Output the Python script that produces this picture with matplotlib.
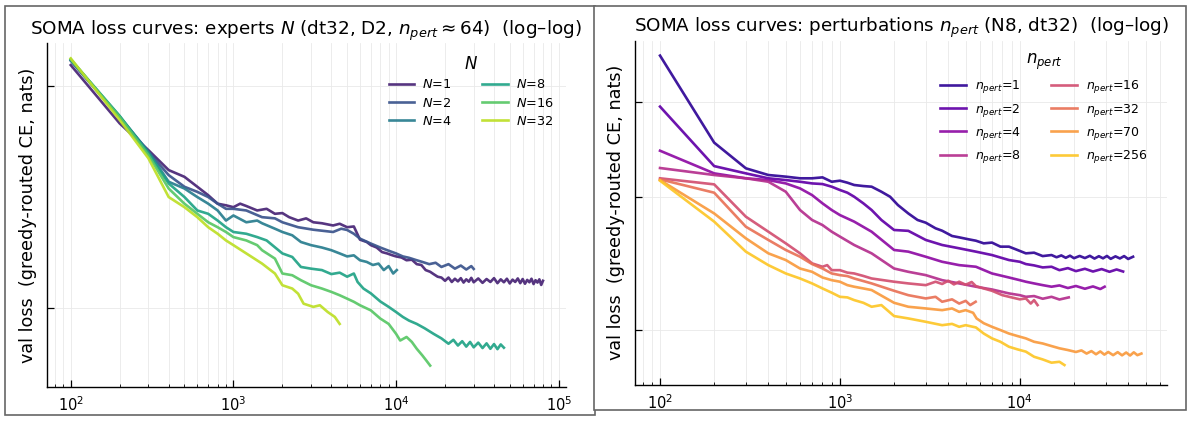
import numpy as np
import matplotlib
matplotlib.use("Agg")
import matplotlib.pyplot as plt
from matplotlib.ticker import FixedLocator, NullFormatter, NullLocator
from matplotlib.patches import Rectangle

# ---- left panel: number of experts N (dt32, D2, n_pert ~ 64) ----
expert_labels = ["1", "2", "4", "8", "16", "32"]

steps_N1 = [100, 200, 300, 400, 500, 600, 700, 800, 900, 1000, 1100, 1200, 1400, 1600, 1800, 2000,
            2200, 2500, 2800, 3100, 3500, 4100, 4500, 5000, 5500, 6000, 6600, 7000, 7600, 8200, 8800,
            9500, 10000, 10800, 11600, 12500, 13400, 14300, 15200, 16200, 17000, 18000, 19000,
            20000, 21000, 22000, 23000, 24000, 25000, 26000, 27000, 28000, 29000, 30000, 32000, 34000,
            36000, 38000, 40000, 42000, 44000, 46000, 48000, 50000, 52000, 54000, 56000, 58000, 60000,
            62000, 64000, 66000, 68000, 70000, 72000, 74000, 76000, 78000, 80000]
loss_N1 = [2.133, 1.778, 1.636, 1.537, 1.505, 1.459, 1.421, 1.384, 1.377, 1.369, 1.384, 1.374, 1.355,
           1.362, 1.341, 1.344, 1.327, 1.313, 1.322, 1.306, 1.302, 1.293, 1.300, 1.286, 1.289, 1.237,
           1.228, 1.216, 1.207, 1.190, 1.185, 1.178, 1.174, 1.170, 1.160, 1.162, 1.146, 1.143, 1.125,
           1.119, 1.111, 1.102, 1.099,
           1.088, 1.099, 1.084, 1.095, 1.086, 1.097, 1.082, 1.093, 1.085, 1.098, 1.083, 1.096, 1.081,
           1.094, 1.084, 1.097, 1.080, 1.093, 1.083, 1.095, 1.079, 1.092, 1.084, 1.096, 1.080, 1.094,
           1.078, 1.091, 1.083, 1.095, 1.077, 1.090, 1.082, 1.093, 1.074, 1.088]

steps_N2 = [100, 200, 300, 400, 500, 600, 700, 800, 900, 1000, 1200, 1500, 1800, 2000, 2500, 3100,
            4100, 4600, 5000, 5500, 6000, 7000, 8000, 9000, 10000, 11000, 12000, 13400, 14500, 16000,
            17500, 19000, 21000, 23000, 25000, 27000, 29000, 30000]
loss_N2 = [2.162, 1.813, 1.628, 1.513, 1.459, 1.436, 1.413, 1.384, 1.362, 1.362, 1.355, 1.327, 1.322,
           1.306, 1.286, 1.276, 1.267, 1.280, 1.275, 1.260, 1.241, 1.222, 1.207, 1.195, 1.185, 1.174,
           1.169, 1.160, 1.154, 1.146, 1.151, 1.136, 1.146, 1.130, 1.141, 1.127, 1.139, 1.129]

steps_N4 = [100, 200, 300, 400, 500, 600, 700, 800, 900, 1000, 1200, 1400, 1500, 1800, 2000, 2300,
            2600, 3000, 3500, 4000, 4500, 5000, 5500, 6000, 6600, 7200, 7800, 8400, 9000, 9600, 10100]
loss_N4 = [2.166, 1.817, 1.628, 1.482, 1.451, 1.413, 1.384, 1.355, 1.313, 1.334, 1.306, 1.313, 1.302,
           1.280, 1.267, 1.254, 1.228, 1.216, 1.207, 1.197, 1.185, 1.174, 1.178, 1.160, 1.154, 1.143,
           1.148, 1.125, 1.139, 1.113, 1.125]

steps_N8 = [100, 200, 300, 400, 500, 600, 700, 800, 900, 1000, 1200, 1400, 1600, 2000, 2300, 2600,
            3000, 3500, 4000, 4500, 5000, 5500, 5800, 6300, 7000, 8000, 9000, 10000, 11000, 12000,
            13400, 15000, 17000, 19000, 21000, 22500, 24000, 25500, 27000, 28500, 30000, 32000, 34000,
            36000, 38000, 40000, 42000, 44000, 46000]
loss_N8 = [2.170, 1.820, 1.619, 1.474, 1.413, 1.355, 1.341, 1.313, 1.286, 1.267, 1.260, 1.247, 1.234,
           1.185, 1.172, 1.136, 1.130, 1.125, 1.111, 1.116, 1.102, 1.113, 1.084, 1.062, 1.046, 1.020,
           1.003, 0.987, 0.972, 0.961, 0.951, 0.938, 0.922, 0.909, 0.894, 0.905, 0.889, 0.901, 0.886,
           0.899, 0.884, 0.897, 0.882, 0.895, 0.880, 0.893, 0.879, 0.892, 0.883]

steps_N16 = [100, 200, 300, 400, 500, 600, 700, 800, 900, 1000, 1200, 1400, 1500, 1800, 2000, 2300,
             2600, 3000, 3500, 4000, 4500, 5000, 5500, 6000, 7000, 8000, 9000, 10000, 10600, 11600,
             12500, 13400, 14500, 15300, 16200]
loss_N16 = [2.173, 1.813, 1.611, 1.451, 1.384, 1.341, 1.306, 1.286, 1.267, 1.247, 1.234, 1.216, 1.197,
            1.166, 1.113, 1.107, 1.090, 1.073, 1.062, 1.051, 1.040, 1.029, 1.019, 1.008, 0.992, 0.967,
            0.951, 0.922, 0.903, 0.913, 0.899, 0.880, 0.862, 0.849, 0.835]

steps_N32 = [100, 200, 300, 400, 500, 600, 700, 800, 900, 1000, 1200, 1500, 1800, 2000, 2300, 2500,
             2700, 3100, 3400, 3800, 4200, 4500]
loss_N32 = [2.178, 1.797, 1.595, 1.413, 1.369, 1.327, 1.286, 1.260, 1.234, 1.216, 1.185, 1.148, 1.113,
            1.073, 1.062, 1.045, 1.013, 1.003, 1.008, 0.987, 0.972, 0.951]

# ---- right panel: perturbations n_pert (N8, dt32) ----
pert_labels = ["1", "2", "4", "8", "16", "32", "70", "256"]

steps_p1 = [100, 200, 300, 400, 500, 600, 700, 800, 900, 1000, 1100, 1200, 1350, 1500, 1700, 1900,
            2100, 2400, 2700, 3000, 3400, 3700, 4200, 4600, 5200, 5700, 6300, 7000, 7800, 8700, 9500,
            10800, 12000, 13400, 15000, 16000, 17000, 18000, 19000, 20000, 21500, 23000, 24500, 26000,
            27500, 29000, 30500, 32000, 34000, 36000, 38000, 40000, 42600]
loss_p1 = [4.611, 3.538, 3.272, 3.206, 3.190, 3.174, 3.174, 3.183, 3.141, 3.151, 3.132, 3.110, 3.100,
           3.094, 3.047, 3.001, 2.926, 2.852, 2.796, 2.773, 2.726, 2.706, 2.663, 2.652, 2.636, 2.625,
           2.604, 2.610, 2.578, 2.578, 2.557, 2.526, 2.531, 2.505, 2.513, 2.496, 2.510, 2.492, 2.508,
           2.489, 2.506, 2.490, 2.507, 2.486, 2.504, 2.488, 2.506, 2.484, 2.503, 2.487, 2.505, 2.483,
           2.500]

steps_p2 = [100, 200, 300, 400, 500, 600, 700, 800, 900, 1000, 1100, 1200, 1350, 1500, 1700, 2000,
            2400, 3000, 3700, 4600, 5700, 7000, 8700, 10000, 10800, 12000, 13400, 15000, 16600, 18500,
            20500, 23000, 25500, 28500, 31500, 34500, 37500]
loss_p2 = [3.948, 3.294, 3.222, 3.174, 3.157, 3.141, 3.125, 3.119, 3.094, 3.063, 3.038, 3.001, 2.941,
           2.882, 2.796, 2.712, 2.705, 2.631, 2.591, 2.565, 2.539, 2.513, 2.475, 2.462, 2.445, 2.435,
           2.420, 2.425, 2.400, 2.415, 2.393, 2.410, 2.390, 2.408, 2.388, 2.405, 2.390]

steps_p4 = [100, 200, 300, 400, 500, 600, 700, 800, 900, 1000, 1200, 1500, 2000, 2400, 3000, 3700,
            4600, 5700, 7000, 8700, 10000, 10800, 12000, 13400, 15000, 16600, 18500, 20500, 23000,
            25500, 28000, 29600]
loss_p4 = [3.452, 3.222, 3.174, 3.157, 3.125, 3.078, 3.016, 2.941, 2.882, 2.838, 2.782, 2.698, 2.552,
           2.539, 2.500, 2.462, 2.437, 2.425, 2.376, 2.347, 2.328, 2.317, 2.305, 2.293, 2.282, 2.291,
           2.273, 2.287, 2.268, 2.284, 2.266, 2.282]

steps_p8 = [100, 200, 300, 400, 500, 600, 700, 800, 900, 1000, 1200, 1500, 2000, 2400, 3000, 3700,
            4600, 5700, 7000, 8700, 10000, 10800, 12000, 13400, 15000, 16600, 18700]
loss_p8 = [3.275, 3.206, 3.174, 3.141, 3.047, 2.882, 2.796, 2.753, 2.698, 2.658, 2.591, 2.526, 2.412,
           2.388, 2.364, 2.328, 2.305, 2.282, 2.263, 2.236, 2.224, 2.213, 2.218, 2.200, 2.213, 2.195,
           2.209]

steps_p16 = [100, 200, 300, 400, 500, 600, 700, 800, 850, 900, 1000, 1100, 1200, 1350, 1500, 2000,
             2400, 3000, 3400, 3700, 4000, 4300, 4600, 5000, 5400, 5700, 6300, 7000, 8000, 9000, 10000,
             10800, 11500, 12000, 12550]
loss_p16 = [3.174, 3.116, 2.824, 2.698, 2.604, 2.526, 2.450, 2.425, 2.437, 2.400, 2.400, 2.382, 2.376,
            2.358, 2.340, 2.317, 2.305, 2.293, 2.317, 2.301, 2.324, 2.298, 2.317, 2.296, 2.315, 2.286,
            2.270, 2.254, 2.224, 2.209, 2.196, 2.202, 2.168, 2.191, 2.158]

steps_p32 = [100, 200, 300, 400, 500, 600, 700, 800, 900, 1000, 1100, 1200, 1500, 2000, 2400, 3000,
             3400, 3700, 4200, 4600, 5000, 5300, 5680]
loss_p32 = [3.164, 3.038, 2.739, 2.631, 2.552, 2.500, 2.445, 2.412, 2.376, 2.364, 2.357, 2.340, 2.305,
            2.254, 2.224, 2.202, 2.213, 2.180, 2.196, 2.168, 2.186, 2.158, 2.180]

steps_p70 = [100, 200, 300, 400, 500, 600, 700, 800, 900, 1000, 1100, 1200, 1350, 1500, 2000, 2400,
             3000, 3700, 4200, 4600, 5000, 5500, 5750, 6300, 7000, 7800, 8700, 9700, 10800, 12000,
             13400, 15000, 16600, 18500, 20500, 22000, 23500, 25000, 26500, 28000, 29500, 31000,
             33000, 35000, 37000, 39000, 41000, 43000, 45000, 47400]
loss_p70 = [3.157, 2.852, 2.644, 2.526, 2.475, 2.412, 2.388, 2.347, 2.328, 2.317, 2.293, 2.282, 2.270,
            2.259, 2.173, 2.147, 2.136, 2.125, 2.136, 2.114, 2.125, 2.108, 2.072, 2.042, 2.020, 2.000,
            1.979, 1.964, 1.950, 1.930, 1.920, 1.905, 1.892, 1.882, 1.871, 1.880, 1.862, 1.876, 1.858,
            1.874, 1.856, 1.871, 1.853, 1.870, 1.852, 1.868, 1.851, 1.869, 1.853, 1.862]

steps_p256 = [100, 200, 300, 400, 500, 600, 700, 800, 900, 1000, 1100, 1200, 1350, 1500, 1700, 2000,
              2400, 3000, 3700, 4200, 4600, 5000, 5700, 6300, 7000, 7800, 8700, 9700, 10800, 12000,
              13400, 15000, 16600, 17700]
loss_p256 = [3.151, 2.782, 2.539, 2.437, 2.376, 2.340, 2.305, 2.270, 2.241, 2.213, 2.209, 2.191, 2.173,
             2.147, 2.158, 2.087, 2.072, 2.051, 2.030, 2.038, 2.020, 2.030, 2.016, 1.979, 1.950, 1.930,
             1.901, 1.886, 1.873, 1.844, 1.829, 1.811, 1.816, 1.798]

left_steps = [steps_N1, steps_N2, steps_N4, steps_N8, steps_N16, steps_N32]
left_loss = [loss_N1, loss_N2, loss_N4, loss_N8, loss_N16, loss_N32]
right_steps = [steps_p1, steps_p2, steps_p4, steps_p8, steps_p16, steps_p32, steps_p70, steps_p256]
right_loss = [loss_p1, loss_p2, loss_p4, loss_p8, loss_p16, loss_p32, loss_p70, loss_p256]

plt.rcParams['font.family'] = ['DejaVu Sans']

fig = plt.figure(figsize=(11.9, 4.26), dpi=100)

# grey screenshot-like frames around each panel (behind the axes)
fig.patches.append(Rectangle((5 / 1190, 1 - 415 / 426), 590 / 1190, 409 / 426, transform=fig.transFigure,
                             fill=False, edgecolor='#666666', lw=1.2, zorder=-2))
fig.patches.append(Rectangle((594 / 1190, 1 - 410 / 426), 592 / 1190, 404 / 426, transform=fig.transFigure,
                             fill=True, facecolor='white', edgecolor='#666666', lw=1.2, zorder=-1))

ax1 = fig.add_axes([0.0392, 0.0915, 0.4361, 0.8075])
ax2 = fig.add_axes([0.5338, 0.0962, 0.4470, 0.8083])
for ax in (ax1, ax2):
    ax.patch.set_alpha(0)


def style(ax, yticks, ylim, xlim):
    ax.set_xscale('log')
    ax.set_yscale('log')
    ax.set_xlim(*xlim)
    ax.set_ylim(*ylim)
    ax.yaxis.set_major_locator(FixedLocator(yticks))
    ax.yaxis.set_major_formatter(NullFormatter())
    ax.yaxis.set_minor_locator(NullLocator())
    ax.yaxis.set_minor_formatter(NullFormatter())
    for s in ['top', 'right']:
        ax.spines[s].set_visible(False)
    for s in ['left', 'bottom']:
        ax.spines[s].set_linewidth(1.0)
    ax.tick_params(which='major', direction='in', length=5, width=0.9, labelsize=10.5, pad=6)
    ax.tick_params(which='minor', direction='in', length=2.5, width=0.6)
    ax.grid(True, which='both', axis='x', color='#e9e9e9', lw=0.6)
    ax.grid(True, which='major', axis='y', color='#e9e9e9', lw=0.6)
    ax.set_axisbelow(True)
    ax.set_ylabel('val loss  (greedy-routed CE, nats)', fontsize=12.7, labelpad=1)


style(ax1, [1, 2], (0.781, 2.285), (71.1, 110200))
style(ax2, [2, 3, 4], (1.692, 4.825), (72.8, 65900))

vcols = plt.cm.viridis(np.linspace(0.1, 0.9, len(expert_labels)))
for st, ls, lab, c in zip(left_steps, left_loss, expert_labels, vcols):
    ax1.plot(st, ls, color=c, lw=1.9, alpha=0.92, label=r'$N$=' + lab)

pcols = plt.cm.plasma(np.linspace(0.06, 0.88, len(pert_labels)))
for st, ls, lab, c in zip(right_steps, right_loss, pert_labels, pcols):
    ax2.plot(st, ls, color=c, lw=1.9, alpha=0.92, label=r'$n_{pert}$=' + lab)

ax1.set_title(r'SOMA loss curves: experts $N$ (dt32, D2, $n_{pert}\approx 64$)  (log–log)',
              fontsize=13.2, pad=6)
ax2.set_title(r'SOMA loss curves: perturbations $n_{pert}$ (N8, dt32)  (log–log)',
              fontsize=13.2, pad=6)

leg1 = ax1.legend(title=r'$N$', ncol=2, frameon=False, fontsize=9.3, title_fontsize=12,
                  loc='upper right', bbox_to_anchor=(1.0, 1.0), handlelength=2.0,
                  columnspacing=2.35, labelspacing=0.42, handletextpad=0.6)
leg2 = ax2.legend(title=r'$n_{pert}$', ncol=2, frameon=False, fontsize=9.0, title_fontsize=12,
                  loc='upper right', bbox_to_anchor=(0.985, 1.005), handlelength=2.1,
                  columnspacing=2.4, labelspacing=0.5, handletextpad=0.7)

fig.savefig('out.png', dpi=100)
